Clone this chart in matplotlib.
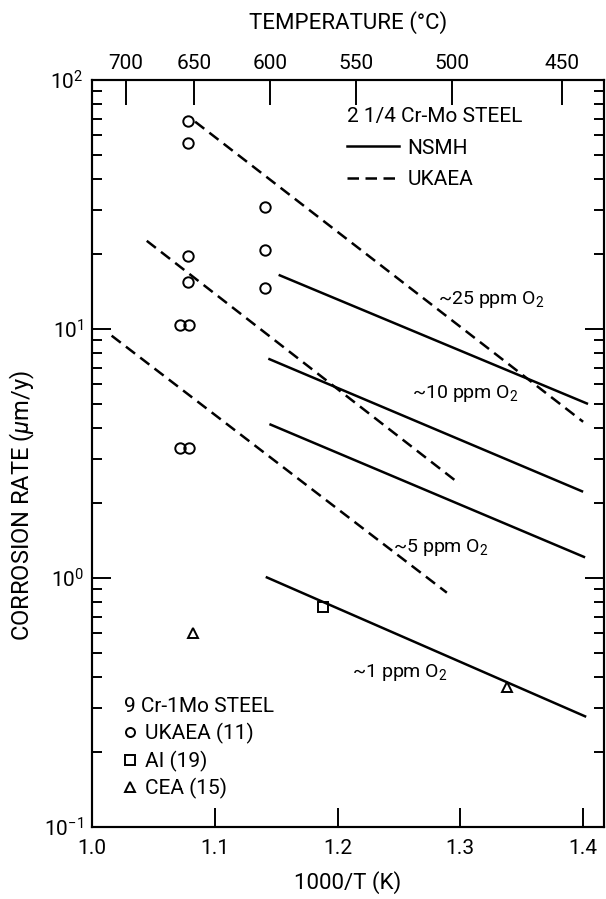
import matplotlib
matplotlib.use("Agg")
import matplotlib.pyplot as plt
from matplotlib.lines import Line2D
from matplotlib.ticker import LogLocator, NullFormatter, FixedLocator
import numpy as np

plt.rcParams['font.family'] = ['Roboto', 'DejaVu Sans']
plt.rcParams['mathtext.fontset'] = 'custom'
plt.rcParams['mathtext.rm'] = 'Roboto'
plt.rcParams['mathtext.it'] = 'Roboto:italic'

# ---- data ----
# 2 1/4 Cr-Mo steel, NSMH (solid) lines: (1000/T endpoints, rate endpoints)
nsmh_x = [[1.152, 1.404], [1.1436, 1.400], [1.1445, 1.4016], [1.1415, 1.4025]]
nsmh_y = [[16.5, 5.0], [7.6, 2.22], [4.15, 1.21], [1.01, 0.277]]
# 2 1/4 Cr-Mo steel, UKAEA (dashed) lines
ukaea_x = [[1.084, 1.400], [1.0446, 1.2993], [1.016, 1.289]]
ukaea_y = [[68.0, 4.24], [22.6, 2.39], [9.4, 0.873]]

# 9Cr-1Mo steel points
ukaea_pts_x = [1.0785, 1.0785, 1.0785, 1.0785, 1.0717, 1.079, 1.0717, 1.079,
               1.141, 1.141, 1.141]
ukaea_pts_y = [68.6, 55.7, 19.6, 15.4, 10.4, 10.4, 3.32, 3.32,
               31.0, 20.8, 14.6]
ai_x = [1.188]
ai_y = [0.763]
cea_x = [1.0823, 1.3378]
cea_y = [0.60, 0.364]

# oxygen level labels (position of text start)
o2_labels = [r'~25 ppm O$_2$', r'~10 ppm O$_2$', r'~5 ppm O$_2$', r'~1 ppm O$_2$']
o2_label_x = [1.2819, 1.2607, 1.2452, 1.2118]
o2_label_y = [13.1, 5.53, 1.33, 0.4155]

x_ticks = [1.0, 1.1, 1.2, 1.3, 1.4]
x_tick_labels = ['1.0', '1.1', '1.2', '1.3', '1.4']
temp_ticks_c = [700, 650, 600, 550, 500, 450]

# ---- figure ----
W, H = 606, 899
fig = plt.figure(figsize=(W / 100, H / 100), dpi=100)
ax = fig.add_axes([92 / W, 1 - 827 / H, (604 - 92) / W, (827 - 80) / H])
ax.set_yscale('log')
ax.set_xlim(1.0, 1.417)
ax.set_ylim(0.1, 100)

lw = 1.8
dash = (4.6, 2.6)
for xs, ys in zip(nsmh_x, nsmh_y):
    ax.plot(xs, ys, color='black', lw=lw, solid_capstyle='butt')
for xs, ys in zip(ukaea_x, ukaea_y):
    ax.plot(xs, ys, color='black', lw=lw, dashes=dash, dash_capstyle='butt')

mk = dict(linestyle='none', markerfacecolor='none', markeredgecolor='black',
          markeredgewidth=1.4)
ax.plot(ukaea_pts_x, ukaea_pts_y, marker='o', markersize=7.5, **mk)
ax.plot(ai_x, ai_y, marker='s', markersize=7, **mk)
ax.plot(cea_x, cea_y, marker='^', markersize=7, **mk)

for s, x, y in zip(o2_labels, o2_label_x, o2_label_y):
    ax.text(x, y, s, fontsize=14, ha='left', va='center')

# ---- axes styling ----
for sp in ax.spines.values():
    sp.set_linewidth(1.5)

ax.xaxis.set_major_locator(FixedLocator(x_ticks))
ax.set_xticklabels(x_tick_labels, fontsize=15)
ax.yaxis.set_major_locator(LogLocator(base=10, numticks=10))
ax.yaxis.set_minor_locator(LogLocator(base=10, subs=np.arange(2, 10), numticks=20))
ax.yaxis.set_minor_formatter(NullFormatter())
ax.tick_params(axis='x', which='major', direction='in', length=14, width=1.4,
               top=False, bottom=True, pad=9)
ax.tick_params(axis='y', which='major', direction='in', length=14, width=1.4,
               left=True, right=True, labelsize=15, pad=6)
ax.tick_params(axis='y', which='minor', direction='in', length=7, width=1.4,
               left=True, right=True)

ax.set_xlabel('1000/T (K)', fontsize=16, labelpad=9)
ax.set_ylabel(r'CORROSION RATE ($\mu$m/y)', fontsize=17)
ax.yaxis.set_label_coords(-0.108, 0.43)

# top temperature axis
top = ax.twiny()
top.set_xlim(ax.get_xlim())
top.xaxis.set_major_locator(FixedLocator([1000.0 / (t + 273.15) for t in temp_ticks_c]))
top.set_xticklabels([str(t) for t in temp_ticks_c], fontsize=15)
top.tick_params(axis='x', direction='in', length=18, width=1.4, pad=5)
top.set_xlabel('TEMPERATURE (°C)', fontsize=16, labelpad=18)
for sp in top.spines.values():
    sp.set_linewidth(1.5)

# legends
h1 = [Line2D([], [], color='black', lw=lw),
      Line2D([], [], color='black', lw=lw, dashes=dash)]
leg1 = fig.legend(h1, ['NSMH', 'UKAEA'], title='2 1/4 Cr-Mo STEEL',
                  loc='upper left', bbox_to_anchor=(347 / W, 1 - 107 / H),
                  frameon=False, fontsize=15, title_fontsize=15, alignment='left',
                  handlelength=2.5, handletextpad=0.4, borderpad=0,
                  borderaxespad=0, labelspacing=0.6)

h2 = [Line2D([], [], marker='o', markersize=6.5, **mk),
      Line2D([], [], marker='s', markersize=6.5, **mk),
      Line2D([], [], marker='^', markersize=6.5, **mk)]
leg2 = fig.legend(h2, ['UKAEA (11)', 'AI (19)', 'CEA (15)'], title='9 Cr-1Mo STEEL',
                  loc='upper left', bbox_to_anchor=(124 / W, 1 - 697 / H),
                  frameon=False, fontsize=15, title_fontsize=15, alignment='left',
                  handlelength=0.6, handletextpad=0.4, borderpad=0,
                  borderaxespad=0, labelspacing=0.32)

fig.savefig('out.png', dpi=100)
